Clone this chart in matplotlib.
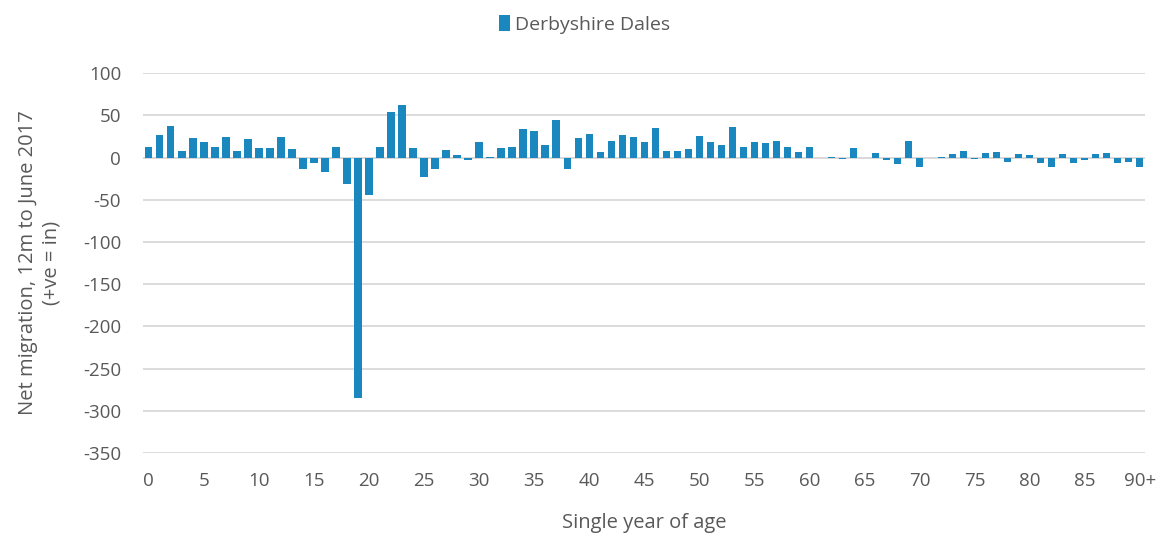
import numpy as np
import matplotlib
matplotlib.use("Agg")
import matplotlib.pyplot as plt

# net migration by single year of age, 0..90+
ages = [str(a) for a in range(90)] + ["90+"]
net_migration = [
    12, 27, 37, 8, 23, 18, 12, 24, 8, 22,
    11, 11, 24, 10, -13, -6, -17, 13, -31, -285,
    -44, 13, 54, 62, 11, -23, -13, 9, 3, -3,
    18, 1, 11, 12, 34, 31, 15, 44, -13, 23,
    28, 7, 20, 27, 24, 18, 35, 8, 8, 10,
    26, 18, 15, 36, 12, 18, 17, 20, 13, 7,
    13, -1, 0.5, -2, 11, 0, 6, -3, -8, 20,
    -11, 0, 0.5, 4, 8, -2, 5, 7, -5, 4,
    3, -6, -11, 4, -7, -3, 4, 6, -6, -5,
    -11,
]
tick_pos = list(range(0, 91, 5))
tick_labels = [ages[i] for i in tick_pos]
yticks = list(range(-350, 101, 50))

BLUE = "#1B87BF"
GREY = "#595959"

plt.rcParams["font.family"] = ["Open Sans", "DejaVu Sans"]

fig = plt.figure(figsize=(11.62, 5.38), dpi=100)
ax = fig.add_axes([0.1233, 0.158, 0.8623, 0.706])

x = np.arange(len(ages))
ax.bar(x, net_migration, width=0.67, color=BLUE, zorder=3, label="Derbyshire Dales")

ax.set_xlim(-0.5, len(ages) - 0.5)
ax.set_ylim(-350, 100)
ax.set_yticks(yticks)
ax.set_yticklabels([str(v) for v in yticks])
ax.set_xticks(tick_pos)
ax.set_xticklabels(tick_labels)
ax.grid(axis="y", color="#D9D9D9", lw=1.3, zorder=0)
ax.axhline(0, color="#D9D9D9", lw=1.3, zorder=2)
for s in ax.spines.values():
    s.set_visible(False)
ax.tick_params(length=0, labelsize=13.5, colors=GREY)
ax.tick_params(axis="x", pad=14)
ax.tick_params(axis="y", pad=16)

ax.set_xlabel("Single year of age", fontsize=14.5, color=GREY, labelpad=16)
ax.set_ylabel("Net migration, 12m to June 2017\n(+ve = in)", fontsize=14.5,
              color=GREY, labelpad=15, linespacing=1.25)

fig.legend(loc="upper center", bbox_to_anchor=(0.503, 1.005), frameon=False,
           fontsize=14, labelcolor=GREY, handlelength=0.6, handleheight=0.9,
           handletextpad=0.25)

fig.savefig("out.png", dpi=100)
